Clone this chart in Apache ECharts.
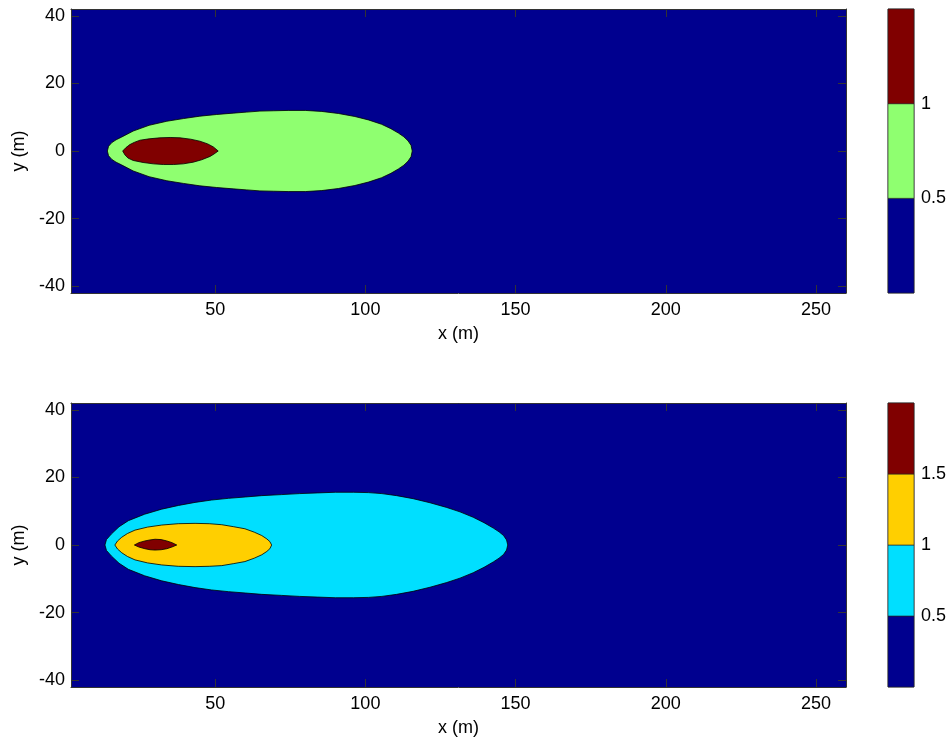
<!DOCTYPE html>
<html>
<head>
<meta charset="utf-8">
<script src="https://cdn.jsdelivr.net/npm/echarts@6/dist/echarts.min.js"></script>
<style>
  html, body { margin: 0; padding: 0; background: #fff; }
  #chart { width: 952px; height: 742px; }
</style>
</head>
<body>
<div id="chart"></div>
<script>
// ---------- data ----------
const xRange = [2, 260];
const yRange = [-42, 42];
const xTicks = [50, 100, 150, 200, 250];
const yTicks = [-40, -20, 0, 20, 40];

// top panel: levels and colours
const topLevels = [0, 0.5, 1, 1.5];
const topColors = ['#00008F', '#8FFF70', '#800000'];
const topCbLabels = [0.5, 1];

// top panel contour 0.5 (outer), upper edge left->right then lower edge right->left
const topOuterX = [14.1, 14.5, 15.6, 17.0, 18.8, 22.7, 28.0, 33.9, 39.5, 44.9, 50.5, 56.0, 60.5, 64.9, 69.5, 74.3, 80.0, 85.5, 91.0, 96.5, 101.0, 105.4, 108.5, 111.0, 112.8, 114.2, 115.2, 115.6,
                   115.2, 114.2, 112.8, 111.0, 108.5, 105.4, 101.0, 96.5, 91.0, 85.5, 80.0, 74.3, 69.5, 64.9, 60.5, 56.0, 50.5, 44.9, 39.5, 33.9, 28.0, 22.7, 18.8, 17.0, 15.6, 14.5];
const topOuterY = [0, 1.4, 2.5, 3.3, 4.1, 5.9, 7.6, 8.8, 9.6, 10.3, 10.8, 11.2, 11.5, 11.8, 11.9, 12.0, 12.0, 11.7, 11.1, 10.2, 9.2, 7.9, 6.6, 5.3, 4.2, 3.0, 1.7, 0,
                   -1.7, -3.0, -4.2, -5.3, -6.6, -7.9, -9.2, -10.2, -11.1, -11.7, -12.0, -12.0, -11.9, -11.8, -11.5, -11.2, -10.8, -10.3, -9.6, -8.8, -7.6, -5.9, -4.1, -3.3, -2.5, -1.4];
// top panel contour 1.0 (inner)
const topInnerX = [19.2, 20.3, 21.6, 23.2, 25.0, 28.0, 31.6, 35.0, 38.3, 41.8, 44.9, 47.5, 49.4, 51.0,
                   49.6, 48.3, 45.5, 42.7, 39.4, 36.1, 32.8, 29.4, 26.0, 22.7, 21.0, 20.0];
const topInnerY = [0, 1.0, 1.9, 2.6, 3.2, 3.6, 3.9, 4.0, 3.9, 3.5, 2.9, 2.1, 1.2, 0,
                   -0.9, -1.6, -2.6, -3.3, -3.8, -4.0, -4.0, -3.8, -3.4, -2.8, -2.1, -1.2];

// bottom panel: levels and colours
const botLevels = [0, 0.5, 1, 1.5, 2];
const botColors = ['#00008F', '#00DFFF', '#FFCF00', '#800000'];
const botCbLabels = [0.5, 1, 1.5];

// bottom panel contour 0.5
const botOuterX = [13.3, 13.8, 15.5, 18.0, 21.1, 26.5, 32.2, 37.8, 43.3, 48.8, 54.4, 60.0, 65.5, 72.0, 78.0, 84.0, 90.0, 96.0, 101.0, 105.5, 110.4, 115.9, 121.5, 127.1, 131.5, 135.9, 139.5, 142.6, 144.5, 146.0, 147.0, 147.4,
                   147.0, 146.0, 144.5, 142.6, 139.5, 135.9, 131.5, 127.1, 121.5, 115.9, 110.4, 105.5, 101.0, 96.0, 90.0, 84.0, 78.0, 72.0, 65.5, 60.0, 54.4, 48.8, 43.3, 37.8, 32.2, 26.5, 21.1, 18.0, 15.5, 13.8];
const botOuterY = [0, 1.6, 3.3, 5.4, 7.2, 9.1, 10.6, 11.7, 12.6, 13.3, 13.8, 14.2, 14.6, 14.9, 15.2, 15.4, 15.6, 15.6, 15.5, 15.2, 14.6, 13.7, 12.5, 11.1, 9.8, 8.2, 6.6, 5.0, 3.9, 2.8, 1.5, 0,
                   -1.5, -2.8, -3.9, -5.0, -6.6, -8.2, -9.8, -11.1, -12.5, -13.7, -14.6, -15.2, -15.5, -15.6, -15.6, -15.4, -15.2, -14.9, -14.6, -14.2, -13.8, -13.3, -12.6, -11.7, -10.6, -9.1, -7.2, -5.4, -3.3, -1.6];
// bottom panel contour 1.0
const botMidX = [16.6, 17.5, 18.9, 20.8, 23.3, 27.5, 32.2, 37.7, 43.3, 48.0, 52.2, 56.2, 59.9, 63.0, 65.5, 67.2, 68.2, 68.8,
                 68.2, 67.2, 65.5, 63.0, 59.9, 56.2, 52.2, 48.0, 43.3, 37.7, 32.2, 27.5, 23.3, 20.8, 18.9, 17.5];
const botMidY = [0, 1.2, 2.3, 3.4, 4.4, 5.3, 5.9, 6.3, 6.4, 6.3, 6.0, 5.4, 4.8, 3.8, 2.8, 1.8, 1.0, 0,
                 -1.1, -1.9, -2.9, -3.9, -4.9, -5.5, -6.1, -6.3, -6.4, -6.3, -5.9, -5.3, -4.4, -3.4, -2.3, -1.2];
// bottom panel contour 1.5
const botInnerX = [23.1, 24.6, 26.6, 28.3, 30.0, 32.0, 33.9, 35.6, 37.2, 35.6, 33.9, 32.0, 30.0, 28.3, 26.6, 24.6];
const botInnerY = [0, 0.7, 1.2, 1.5, 1.7, 1.6, 1.2, 0.7, 0, -0.6, -1.1, -1.4, -1.5, -1.4, -1.1, -0.6];

// ---------- chart ----------
const FONT = "'Liberation Sans', Arial, Helvetica, sans-serif";
const FS = 18;

const topPolys = [
  { x: topOuterX, y: topOuterY, color: topColors[1] },
  { x: topInnerX, y: topInnerY, color: topColors[2] }
];
const botPolys = [
  { x: botOuterX, y: botOuterY, color: botColors[1] },
  { x: botMidX, y: botMidY, color: botColors[2] },
  { x: botInnerX, y: botInnerY, color: botColors[3] }
];

function polySeries(polys, xi, yi) {
  return {
    type: 'custom',
    coordinateSystem: 'cartesian2d',
    xAxisIndex: xi, yAxisIndex: yi,
    clip: true,
    silent: true,
    data: polys.map((p) => [p.x[0], p.y[0]]),
    renderItem: function (params, api) {
      const p = polys[params.dataIndex];
      const pts = p.x.map((xv, i) => api.coord([xv, p.y[i]]));
      return {
        type: 'polygon',
        shape: { points: pts },
        style: { fill: p.color, stroke: '#000', lineWidth: 0.8, lineJoin: 'round' }
      };
    }
  };
}

function cbSeries(levels, colors, xi, yi) {
  return {
    type: 'custom',
    coordinateSystem: 'cartesian2d',
    xAxisIndex: xi, yAxisIndex: yi,
    silent: true,
    data: colors.map((c, i) => [levels[i], levels[i + 1]]),
    renderItem: function (params, api) {
      const lo = api.value(0), hi = api.value(1);
      const a = api.coord([0, hi]);
      const b = api.coord([1, lo]);
      return {
        type: 'rect',
        shape: { x: a[0], y: a[1], width: b[0] - a[0], height: b[1] - a[1] },
        style: { fill: colors[params.dataIndex], stroke: '#222', lineWidth: 0.6 }
      };
    }
  };
}

const lineStyle = { color: '#333', width: 1 };

function mainX(gridIndex, pos, showLabel, name) {
  return {
    type: 'value', gridIndex: gridIndex, position: pos,
    min: xRange[0], max: xRange[1],
    name: name || '', nameLocation: 'middle', nameGap: 32,
    nameTextStyle: { fontFamily: FONT, fontSize: FS, color: '#000' },
    axisLine: { show: true, onZero: false, lineStyle: lineStyle },
    axisTick: { show: true, inside: true, length: 8, customValues: xTicks, lineStyle: lineStyle },
    axisLabel: { show: showLabel, customValues: xTicks, margin: 8, fontFamily: FONT, fontSize: FS, color: '#000' },
    splitLine: { show: false }
  };
}
function mainY(gridIndex, pos, showLabel, name) {
  return {
    type: 'value', gridIndex: gridIndex, position: pos,
    min: yRange[0], max: yRange[1],
    name: name || '', nameLocation: 'middle', nameGap: 42, nameRotate: 90,
    nameTextStyle: { fontFamily: FONT, fontSize: FS, color: '#000' },
    axisLine: { show: true, onZero: false, lineStyle: lineStyle },
    axisTick: { show: true, inside: true, length: 8, customValues: yTicks, lineStyle: lineStyle },
    axisLabel: { show: showLabel, customValues: yTicks, margin: 6, fontFamily: FONT, fontSize: FS, color: '#000' },
    splitLine: { show: false }
  };
}
function cbX(gridIndex) {
  return { type: 'value', gridIndex: gridIndex, min: 0, max: 1, show: false };
}
function cbY(gridIndex, levels, labels) {
  return {
    type: 'value', gridIndex: gridIndex, position: 'right',
    min: levels[0], max: levels[levels.length - 1],
    axisLine: { show: false },
    axisTick: { show: false },
    axisLabel: { show: true, customValues: labels, margin: 7, fontFamily: FONT, fontSize: FS, color: '#000' },
    splitLine: { show: false }
  };
}

const option = {
  backgroundColor: '#fff',
  animation: false,
  grid: [
    { left: 71, top: 9, width: 775, height: 284, show: true, backgroundColor: topColors[0], borderWidth: 0 },
    { left: 71, top: 403, width: 775, height: 284, show: true, backgroundColor: botColors[0], borderWidth: 0 },
    { left: 888, top: 9, width: 26, height: 284, show: true, backgroundColor: '#fff', borderColor: '#555', borderWidth: 1 },
    { left: 888, top: 403, width: 26, height: 284, show: true, backgroundColor: '#fff', borderColor: '#555', borderWidth: 1 }
  ],
  xAxis: [
    mainX(0, 'bottom', true, 'x (m)'),
    mainX(0, 'top', false),
    mainX(1, 'bottom', true, 'x (m)'),
    mainX(1, 'top', false),
    cbX(2),
    cbX(3)
  ],
  yAxis: [
    mainY(0, 'left', true, 'y (m)'),
    mainY(0, 'right', false),
    mainY(1, 'left', true, 'y (m)'),
    mainY(1, 'right', false),
    cbY(2, topLevels, topCbLabels),
    cbY(3, botLevels, botCbLabels)
  ],
  series: [
    polySeries(topPolys, 0, 0),
    polySeries(botPolys, 2, 2),
    cbSeries(topLevels, topColors, 4, 4),
    cbSeries(botLevels, botColors, 5, 5)
  ]
};

const chart = echarts.init(document.getElementById('chart'), null, { renderer: 'canvas' });
chart.setOption(option);
</script>
</body>
</html>
